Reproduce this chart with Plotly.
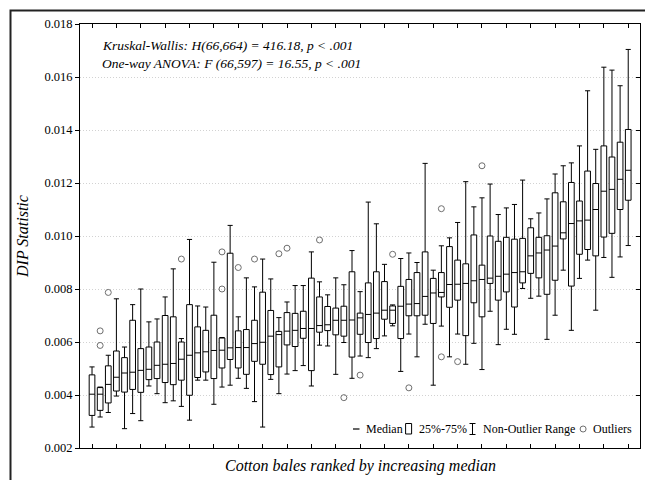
import plotly.graph_objects as go

# ---------------- data ----------------
bale_rank = list(range(1, 68))

lower_whisker = [0.00279, 0.00317, 0.00334, 0.00396, 0.00273, 0.00330, 0.00303, 0.00434, 0.00405, 0.00371,
                 0.00378, 0.00357, 0.00305, 0.00456, 0.00456, 0.00365, 0.00430, 0.00437, 0.00463, 0.00425,
                 0.00375, 0.00279, 0.00459, 0.00405, 0.00479, 0.00492, 0.00511, 0.00434, 0.00588, 0.00585,
                 0.00478, 0.00598, 0.00463, 0.00547, 0.00541, 0.00575, 0.00623, 0.00661, 0.00489, 0.00630,
                 0.00544, 0.00667, 0.00437, 0.00660, 0.00544, 0.00630, 0.00516, 0.00595, 0.00496, 0.00716,
                 0.00590, 0.00648, 0.00629, 0.00802, 0.00765, 0.00773, 0.00610, 0.00701, 0.00871, 0.00644,
                 0.00840, 0.00909, 0.00720, 0.00919, 0.00844, 0.00921, 0.00964]
q1 = [0.00323, 0.00342, 0.00370, 0.00415, 0.00411, 0.00421, 0.00410, 0.00458, 0.00462, 0.00447,
      0.00439, 0.00456, 0.00399, 0.00466, 0.00487, 0.00462, 0.00502, 0.00534, 0.00502, 0.00478,
      0.00527, 0.00516, 0.00477, 0.00506, 0.00589, 0.00583, 0.00614, 0.00492, 0.00637, 0.00643,
      0.00627, 0.00622, 0.00543, 0.00629, 0.00598, 0.00613, 0.00686, 0.00670, 0.00613, 0.00699,
      0.00699, 0.00701, 0.00670, 0.00770, 0.00731, 0.00758, 0.00624, 0.00748, 0.00695, 0.00821,
      0.00758, 0.00789, 0.00732, 0.00823, 0.00859, 0.00842, 0.00780, 0.00833, 0.00989, 0.00811,
      0.00931, 0.00949, 0.00925, 0.00996, 0.01010, 0.01100, 0.01135]
median = [0.00403, 0.00403, 0.00440, 0.00467, 0.00483, 0.00486, 0.00493, 0.00497, 0.00512, 0.00516,
          0.00519, 0.00535, 0.00550, 0.00559, 0.00563, 0.00568, 0.00569, 0.00578, 0.00579, 0.00579,
          0.00594, 0.00599, 0.00622, 0.00628, 0.00641, 0.00644, 0.00651, 0.00651, 0.00662, 0.00665,
          0.00682, 0.00682, 0.00683, 0.00691, 0.00704, 0.00709, 0.00720, 0.00720, 0.00735, 0.00743,
          0.00745, 0.00772, 0.00785, 0.00787, 0.00817, 0.00818, 0.00821, 0.00831, 0.00836, 0.00841,
          0.00848, 0.00856, 0.00862, 0.00865, 0.00925, 0.00936, 0.00947, 0.00962, 0.01012, 0.01047,
          0.01057, 0.01060, 0.01100, 0.01169, 0.01176, 0.01214, 0.01248]
q3 = [0.00476, 0.00428, 0.00510, 0.00566, 0.00541, 0.00682, 0.00575, 0.00581, 0.00600, 0.00700,
      0.00695, 0.00600, 0.00741, 0.00657, 0.00644, 0.00701, 0.00615, 0.00935, 0.00642, 0.00647,
      0.00682, 0.00788, 0.00719, 0.00640, 0.00711, 0.00708, 0.00716, 0.00841, 0.00770, 0.00734,
      0.00728, 0.00735, 0.00865, 0.00709, 0.00823, 0.00865, 0.00828, 0.00736, 0.00810, 0.00836,
      0.00862, 0.00940, 0.00840, 0.00862, 0.00960, 0.00909, 0.00895, 0.01004, 0.00890, 0.01000,
      0.00980, 0.00995, 0.00988, 0.00991, 0.01031, 0.00995, 0.01001, 0.01163, 0.01129, 0.01202,
      0.01132, 0.01245, 0.01198, 0.01340, 0.01298, 0.01354, 0.01402]
upper_whisker = [0.00506, 0.00430, 0.00550, 0.00763, 0.00581, 0.00741, 0.00800, 0.00676, 0.00687, 0.00770,
                 0.00876, 0.00613, 0.00987, 0.00736, 0.00732, 0.00901, 0.00617, 0.01040, 0.00695, 0.00842,
                 0.00808, 0.00913, 0.00838, 0.00692, 0.00751, 0.00813, 0.00813, 0.00940, 0.00827, 0.00778,
                 0.00842, 0.00816, 0.00945, 0.00790, 0.01128, 0.01046, 0.00893, 0.00740, 0.00915, 0.00936,
                 0.00900, 0.01274, 0.00871, 0.00963, 0.00993, 0.01051, 0.01205, 0.01110, 0.01144, 0.01196,
                 0.01081, 0.01106, 0.01119, 0.01211, 0.01065, 0.01087, 0.01140, 0.01234, 0.01265, 0.01276,
                 0.01340, 0.01548, 0.01327, 0.01637, 0.01626, 0.01567, 0.01704]

outlier_rank = [2, 2, 3, 12, 17, 17, 19, 21, 24, 25, 29, 32, 34, 38, 40, 44, 44, 46, 49]
outlier_value = [0.00642, 0.00587, 0.00787, 0.00913, 0.00940, 0.00800, 0.00881, 0.00913, 0.00933, 0.00954,
                 0.00985, 0.00390, 0.00475, 0.00931, 0.00427, 0.01103, 0.00544, 0.00526, 0.01265]

y_ticks = [0.002, 0.004, 0.006, 0.008, 0.010, 0.012, 0.014, 0.016, 0.018]
x_ticks = bale_rank[::3]

stat_lines = ["Kruskal-Wallis: H(66,664) = 416.18, p < .001",
              "One-way ANOVA: F (66,597) = 16.55, p < .001"]
legend_labels = ["Median", "25%-75%", "Non-Outlier Range", "Outliers"]

# ---------------- layout geometry ----------------
W, H = 645, 480
ML, MR, MT, MB = 80, 5, 24, 32
PW, PH = W - ML - MR, H - MT - MB
def PX(px):
    return (px - ML) / PW
def PY(py):
    return (H - MB - py) / PH

SERIF = "Liberation Serif"
XR = [-0.48, 68.45]
YR = [0.002, 0.018]

fig = go.Figure()

fig.add_trace(go.Box(
    x=bale_rank, q1=q1, median=median, q3=q3,
    lowerfence=lower_whisker, upperfence=upper_whisker,
    width=0.7, whiskerwidth=0.9, boxpoints=False,
    fillcolor="white", line=dict(color="black", width=1),
    showlegend=False, hoverinfo="skip"))

fig.add_trace(go.Scatter(
    x=outlier_rank, y=outlier_value, mode="markers",
    marker=dict(symbol="circle-open", size=6, color="#6e6e6e", line=dict(width=1, color="#6e6e6e")),
    showlegend=False, hoverinfo="skip"))

# empty trace to activate the mirrored (top / right) axes
fig.add_trace(go.Scatter(x=[None], y=[None], xaxis="x2", yaxis="y2", showlegend=False, hoverinfo="skip"))

ann = []
ann.append(dict(text="<i>%s</i>" % stat_lines[0], x=PX(100), y=PY(45), xref="paper", yref="paper",
                xanchor="left", yanchor="middle", showarrow=False, font=dict(family=SERIF, size=13.5, color="black")))
ann.append(dict(text="<i>%s</i>" % stat_lines[1], x=PX(100), y=PY(63.5), xref="paper", yref="paper",
                xanchor="left", yanchor="middle", showarrow=False, font=dict(family=SERIF, size=13.5, color="black")))
ann.append(dict(text="<i>DIP Statistic</i>", x=PX(22), y=0.5, xref="paper", yref="paper", textangle=-90,
                xanchor="center", yanchor="middle", showarrow=False, font=dict(family=SERIF, size=16, color="black")))
ann.append(dict(text="<i>Cotton bales ranked by increasing median</i>", x=0.5, y=PY(466), xref="paper", yref="paper",
                xanchor="center", yanchor="middle", showarrow=False, font=dict(family=SERIF, size=16, color="black")))

# legend (text + small symbols)
LY = 429
leg_text_x = [364, 416.6, 480.5, 591.1]
for lab, lx in zip(legend_labels, leg_text_x):
    ann.append(dict(text=lab, x=PX(lx), y=PY(LY), xref="paper", yref="paper", xanchor="left", yanchor="middle",
                    showarrow=False, font=dict(family=SERIF, size=12, color="black")))

shapes = []
# outer frame (left + top)
shapes.append(dict(type="path", xref="paper", yref="paper",
                   path="M %f %f L %f %f L %f %f" % (PX(10.5), PY(490), PX(10.5), PY(10.5), PX(660), PY(10.5)),
                   line=dict(color="#222", width=2)))
# legend symbols
shapes.append(dict(type="line", xref="paper", yref="paper", x0=PX(353), x1=PX(359.5), y0=PY(LY), y1=PY(LY),
                   line=dict(color="black", width=1.2)))
shapes.append(dict(type="rect", xref="paper", yref="paper", x0=PX(405.6), x1=PX(411.6), y0=PY(434), y1=PY(423.5),
                   line=dict(color="black", width=1), fillcolor="white"))
shapes.append(dict(type="path", xref="paper", yref="paper",
                   path="M %f %f L %f %f M %f %f L %f %f M %f %f L %f %f" % (
                       PX(469.5), PY(423.5), PX(475.5), PY(423.5), PX(472.5), PY(423.5), PX(472.5), PY(434.5),
                       PX(469.5), PY(434.5), PX(475.5), PY(434.5)),
                   line=dict(color="black", width=1)))
shapes.append(dict(type="circle", xref="paper", yref="paper", x0=PX(580.1), x1=PX(586.1), y0=PY(432), y1=PY(426),
                   line=dict(color="#6e6e6e", width=1)))

axis_common = dict(showline=True, linecolor="black", linewidth=1, zeroline=False, ticklen=4, tickwidth=1,
                   tickcolor="black")

fig.update_layout(
    width=W, height=H, autosize=False,
    margin=dict(l=ML, r=MR, t=MT, b=MB),
    paper_bgcolor="white", plot_bgcolor="white",
    font=dict(family=SERIF, color="black"),
    xaxis=dict(range=XR, tickmode="array", tickvals=x_ticks, ticks="inside", showticklabels=False,
               showgrid=False, **axis_common),
    yaxis=dict(range=YR, tickmode="array", tickvals=y_ticks, tickformat=".3f", ticks="outside",
               showgrid=True, gridcolor="#d2d2d2", griddash="1px,2px", gridwidth=1,
               tickfont=dict(family=SERIF, size=12.5, color="black"), **axis_common),
    xaxis2=dict(range=XR, overlaying="x", side="top", tickmode="array", tickvals=x_ticks, ticks="inside",
                showticklabels=False, showgrid=False, **axis_common),
    yaxis2=dict(range=YR, overlaying="y", side="right", tickmode="array", tickvals=y_ticks, ticks="inside",
                showticklabels=False, showgrid=False, **axis_common),
    annotations=ann, shapes=shapes, showlegend=False,
)

fig.write_html("out.html")
